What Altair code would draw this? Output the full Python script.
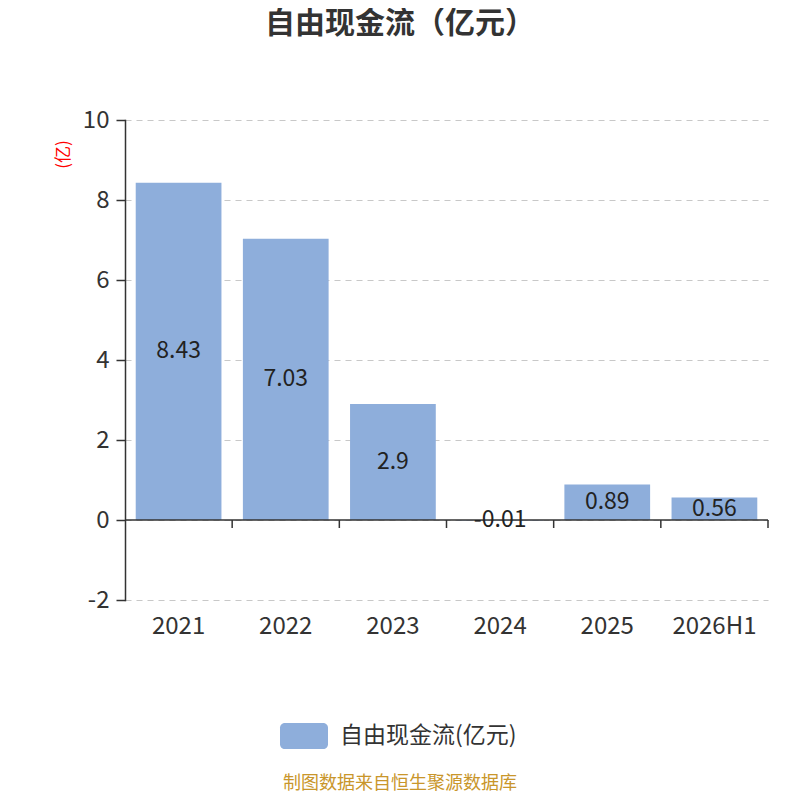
import altair as alt
import pandas as pd

categories = ["2021", "2022", "2023", "2024", "2025", "2026H1"]
values = [8.43, 7.03, 2.9, -0.01, 0.89, 0.56]
labels = ["8.43", "7.03", "2.9", "-0.01", "0.89", "0.56"]
series_name = "自由现金流(亿元)"
title_text = "自由现金流（亿元）"
footer_text = "制图数据来自恒生聚源数据库"
y_ticks = [-2, 0, 2, 4, 6, 8, 10]

FONT = "Noto Sans CJK SC"
W, H = 643, 480
STEP = W / len(categories)

df = pd.DataFrame({"cat": categories, "val": values, "label": labels,
                   "half": [v / 2 for v in values], "series": series_name})

xscale = alt.Scale(domain=categories, paddingInner=0.2, paddingOuter=0.1)
yscale = alt.Scale(domain=[-2, 10], nice=False)

rounded = ("M-0.8,-0.54 L0.8,-0.54 A0.2,0.2 0 0 1 1,-0.34 L1,0.34 "
           "A0.2,0.2 0 0 1 0.8,0.54 L-0.8,0.54 A0.2,0.2 0 0 1 -1,0.34 "
           "L-1,-0.34 A0.2,0.2 0 0 1 -0.8,-0.54 Z")

base = alt.Chart(df)

bars = base.mark_bar(color="#8EAEDB").encode(
    x=alt.X("cat:N", scale=xscale, sort=categories,
            axis=alt.Axis(title=None, domain=False, ticks=False, labelAngle=0,
                          labelFontSize=24, labelColor="#333333", labelFont=FONT,
                          labelPadding=14, grid=False)),
    y=alt.Y("val:Q", scale=yscale,
            axis=alt.Axis(values=y_ticks, title="(亿)", titleColor="red",
                          titleFontSize=17, titleFont=FONT, titleFontWeight="normal",
                          titleAngle=-90, titleX=-62, titleY=34,
                          titleAlign="center", titleBaseline="middle",
                          labelExpr="'' + datum.value",
                          labelFontSize=24, labelColor="#333333", labelFont=FONT,
                          labelPadding=7, tickSize=9, tickColor="#333333",
                          tickWidth=1.5, domainColor="#333333", domainWidth=1.5,
                          grid=True, gridColor="#c8c8c8", gridDash=[6, 5],
                          gridWidth=1.2)),
    y2=alt.datum(0),
    fill=alt.Fill("series:N", scale=alt.Scale(range=["#8EAEDB"]),
                  legend=alt.Legend(title=None, orient="none", legendX=155,
                                    legendY=592, symbolType=rounded,
                                    symbolSize=2304, symbolStrokeWidth=0,
                                    labelFontSize=23, labelFont=FONT,
                                    labelColor="#333333", labelOffset=12,
                                    labelLimit=0, padding=0)),
)

zero_line = alt.Chart(pd.DataFrame({"z": [0]})).mark_rule(
    color="#333333", strokeWidth=1.5).encode(
    y=alt.Y("z:Q", scale=yscale), x=alt.value(0), x2=alt.value(W))

ticks = base.mark_rule(color="#333333", strokeWidth=1.5,
                       xOffset=0.1 * STEP).encode(
    x=alt.X("cat:N", scale=xscale, sort=categories, bandPosition=1),
    y=alt.datum(0), y2=alt.datum(-0.2))

texts = base.mark_text(fontSize=23, font=FONT, color="#222222",
                       baseline="middle", align="center").encode(
    x=alt.X("cat:N", scale=xscale, sort=categories),
    y=alt.Y("half:Q", scale=yscale),
    text="label:N")

title = alt.Chart(pd.DataFrame({"t": [title_text]})).mark_text(
    fontSize=30, font=FONT, fontWeight="bold", color="#333333",
    align="center", baseline="middle").encode(
    text="t:N", x=alt.value(275), y=alt.value(-96))

footer = alt.Chart(pd.DataFrame({"t": [footer_text]})).mark_text(
    fontSize=18, font=FONT, color="#C9962B",
    align="center", baseline="middle").encode(
    text="t:N", x=alt.value(275), y=alt.value(664))

chart = alt.layer(bars, zero_line, ticks, texts, title, footer).properties(
    width=W, height=H,
    autosize=alt.AutoSizeParams(type="none"),
    padding={"left": 117, "top": 112, "right": 20, "bottom": 192},
).configure_view(stroke=None).configure_axis(domainCap="square")

chart.save("out.html", embed_options={"renderer": "svg", "actions": False})
